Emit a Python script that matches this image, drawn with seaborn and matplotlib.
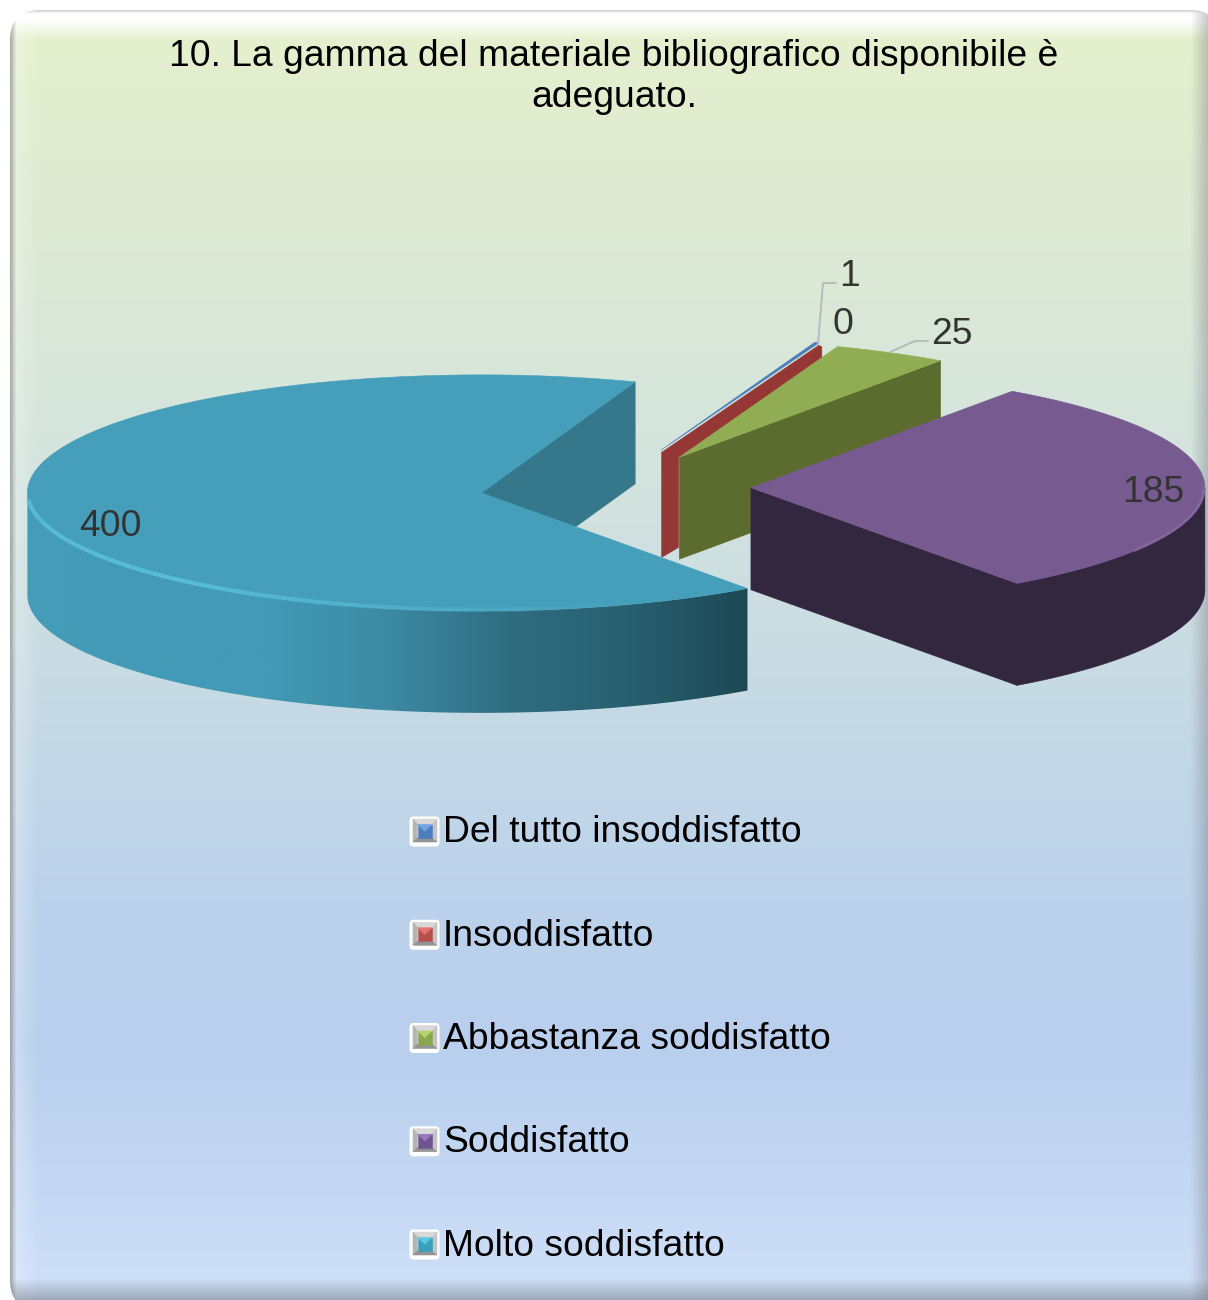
import numpy as np
import matplotlib
matplotlib.use('Agg')
import matplotlib.pyplot as plt
from matplotlib.colors import to_rgb
from matplotlib.patches import FancyBboxPatch, Polygon
import seaborn as sns

# --- Data ---
CATEGORIES = ['Del tutto insoddisfatto', 'Insoddisfatto', 'Abbastanza soddisfatto',
              'Soddisfatto', 'Molto soddisfatto']
VALUES = [1, 0, 25, 185, 400]
TITLE = '10. La gamma del materiale bibliografico disponibile è\nadeguato.'

# --- Colours ---
TOP_COLORS = ['#4a7ebb', '#953735', '#91ad53', '#775a90', '#459fba']
SIDE_COLORS = ['#35598a', '#953735', '#5c6c2e', '#33263f', '#35788c']
BIG_WALL = ['#459dba', '#439ab6', '#429ab6', '#3c8aa3', '#2f6d81', '#286071', '#1d4854']
LEGEND_LIGHT = ['#6fa3e0', '#e87470', '#b5d36b', '#9a78ba', '#5cc6de']
LEGEND_DARK = ['#4a7ebb', '#b5504d', '#8aa64f', '#6f5590', '#38a0ba']
BG_Y = [0, 200, 400, 700, 900, 1050, 1300]
BG_RGB = [(231, 241, 205), (222, 234, 210), (215, 230, 220), (198, 218, 228),
          (188, 210, 235), (185, 207, 238), (207, 224, 248)]

# --- Layout (pixels) ---
W, H = 1208, 1300
CX, CY = 617, 488
RX, RY = 454, 118
DEPTH = 102
EXPLODE = 0.295
START = 70.2
BIG_SHIFT = -3
FONT = 26.8

sns.set_theme(style='white')
plt.rcParams['font.family'] = ['Liberation Sans', 'DejaVu Sans']


def rim(center, t):
    t = np.radians(t)
    return center[0] + RX * np.cos(t), center[1] - RY * np.sin(t)


def poly(ax, xs, ys, color, z):
    ax.add_patch(Polygon(np.column_stack([xs, ys]), closed=True, facecolor=color,
                         edgecolor=color, lw=0.4, zorder=z))


fig = plt.figure(figsize=(W / 100, H / 100), dpi=100, facecolor='white')
ax = fig.add_axes([0, 0, 1, 1])
ax.set_xlim(0, W)
ax.set_ylim(H, 0)
ax.axis('off')

# --- Background panel ---
yy, xx = np.mgrid[0:H, 0:W]
img = np.stack([np.interp(yy, BG_Y, [c[i] for c in BG_RGB]) for i in range(3)], axis=-1) / 255.0


def blend(img, alpha, rgb):
    alpha = np.clip(alpha, 0, 1)[..., None]
    return img * (1 - alpha) + np.array(rgb) * alpha


img = blend(img, 0.28 * (1 - (xx - 14) / 24), (1, 1, 1))
img = blend(img, 0.95 * (1 - (yy - 20) / 20), (1, 1, 1))
img = blend(img, 0.55 * (1 - (xx - 10) / 6), (0.45, 0.45, 0.45))
img = blend(img, 0.40 * (xx - 1190) / 18, (0.45, 0.47, 0.50))
img = blend(img, 0.50 * (yy - 1278) / 22, (0.42, 0.44, 0.48))
img = blend(img, 0.6 * (1 - (yy - 10) / 3), (0.72, 0.72, 0.72))

panel = FancyBboxPatch((10, 10), 1210, 1300, boxstyle='round,pad=0,rounding_size=30',
                       facecolor='none', edgecolor='none', zorder=0)
ax.add_patch(panel)
bg = ax.imshow(img, extent=(0, W, H, 0), aspect='auto', zorder=0, interpolation='bilinear')
bg.set_clip_path(panel)

# --- Exploded pie, slices worked out from the values ---
total = sum(VALUES)
sweeps = [v / total * 360 for v in VALUES]
ends = START - np.cumsum(sweeps)
starts = ends + np.array(sweeps)
mids = (starts + ends) / 2
centers = [(CX + EXPLODE * RX * np.cos(np.radians(m)),
            CY - EXPLODE * RY * np.sin(np.radians(m))) for m in mids]
centers[4] = (centers[4][0] + BIG_SHIFT, centers[4][1])

# blue and red are only slivers
c = centers[1]
ex, ey = rim(c, ends[1])
rx, ry = rim(centers[0], np.linspace(starts[0], ends[0], 5))
poly(ax, np.r_[c[0] - 3, rx - 2], np.r_[c[1] - 5, ry - 2], TOP_COLORS[0], 2)
# zero value: Excel still draws the cut face as a slab
poly(ax, [c[0] - 2, ex - 3, ex, ex, c[0] + 17], [c[1] - 3, ey + 0.5, ey + 2, ey + 14, c[1] + 2],
     TOP_COLORS[1], 3)
poly(ax, [c[0] - 2, c[0] + 15, c[0] + 15, c[0] - 2],
     [c[1] - 3, c[1], c[1] + DEPTH - 10, c[1] + DEPTH], SIDE_COLORS[1], 3)

# green
c = centers[2]
ex, ey = rim(c, ends[2])
poly(ax, [c[0], ex, ex, c[0]], [c[1], ey, ey + DEPTH, c[1] + DEPTH], SIDE_COLORS[2], 4)
rx, ry = rim(c, np.linspace(starts[2], ends[2], 20))
poly(ax, np.r_[c[0], rx], np.r_[c[1], ry], TOP_COLORS[2], 5)

# purple
c = centers[3]
ex, ey = rim(c, ends[3])
poly(ax, [c[0], ex, ex, c[0]], [c[1], ey, ey + DEPTH, c[1] + DEPTH], SIDE_COLORS[3], 6)
wall_t = np.linspace(ends[3], 0, 40)
rx, ry = rim(c, wall_t)
poly(ax, np.r_[rx, rx[::-1]], np.r_[ry, ry[::-1] + DEPTH], SIDE_COLORS[3], 6)
rx, ry = rim(c, np.linspace(starts[3], ends[3], 120))
poly(ax, np.r_[c[0], rx], np.r_[c[1], ry], TOP_COLORS[3], 7)
rx, ry = rim(c, np.linspace(-32, 0, 30))
ax.plot(rx - 1, ry, color='#8d70a8', lw=2, alpha=0.6, zorder=8)

# big slice: cut face at the back, shaded wall at the front, then the top
c = centers[4]
sx, sy = rim(c, ends[4])
poly(ax, [c[0], sx, sx, c[0]], [c[1], sy, sy + DEPTH, c[1] + DEPTH], SIDE_COLORS[4], 8)
wall_t = np.linspace(-180, starts[4], 140)
rx, ry = rim(c, wall_t)
wall = Polygon(np.column_stack([np.r_[rx, rx[::-1]], np.r_[ry, ry[::-1] + DEPTH]]),
               closed=True, facecolor='none', edgecolor='none', zorder=9)
ax.add_patch(wall)
shades = np.array([to_rgb(s) for s in sns.blend_palette(BIG_WALL, n_colors=256)])[None, :, :]
wall_img = ax.imshow(shades, extent=(rx.min(), rx.max(), H, 0), aspect='auto', zorder=9,
                     interpolation='bilinear')
wall_img.set_clip_path(wall)
ax.set_xlim(0, W)
ax.set_ylim(H, 0)
rx, ry = rim(c, np.linspace(starts[4], ends[4], 240))
poly(ax, np.r_[c[0], rx], np.r_[c[1], ry], TOP_COLORS[4], 10)

# soft highlight along the front rim of the big slice
hl = np.linspace(-176, -70, 90)
for t0, t1 in zip(hl[:-1], hl[1:]):
    x, y = rim(c, np.array([t0, t1]))
    fade = min(1.0, (-70 - t0) / 60)
    ax.plot(x, y - 1, color='#58c0dc', lw=3, alpha=0.9 * fade, solid_capstyle='butt', zorder=11)

# --- Value labels and leader lines ---
LEADER = '#b4b8b8'
ax.plot([818, 823, 836], [344, 283, 283], color=LEADER, lw=1.3, zorder=12)
ax.plot([890, 915, 928], [352, 341, 341], color=LEADER, lw=1.3, zorder=12)
label_xy = [(849, 276), (843, 325), (952, 335), (1153, 492), (110, 527)]
for v, (lx, ly) in zip(VALUES, label_xy):
    ax.text(lx, ly, str(v), ha='center', va='center', fontsize=FONT, color='#333333', zorder=13)

# --- Title ---
ax.text(614, 77, TITLE, ha='center', va='center', fontsize=FONT, color='black',
        linespacing=1.2, zorder=13)

# --- Legend ---
for i, name in enumerate(CATEGORIES):
    ly = 831 + 103.25 * i
    ax.add_patch(FancyBboxPatch((411, ly - 13), 27, 27, boxstyle='round,pad=1.5,rounding_size=4',
                                facecolor='white', edgecolor='none', zorder=12))
    x0, x1, y0, y1 = 413, 437, ly - 12, ly + 11
    a0, a1, b0, b1 = 417.5, 432, ly - 6.5, ly + 7
    poly(ax, [x0, x1, a1, a0], [y0, y0, b0, b0], '#d8d8d8', 13)
    poly(ax, [x0, a0, a0, x0], [y0, b0, b1, y1], '#b4b4b4', 13)
    poly(ax, [x1, a1, a1, x1], [y0, b0, b1, y1], '#c4c4c4', 13)
    poly(ax, [x0, x1, a1, a0], [y1, y1, b1, b1], '#949494', 13)
    mx, my = (a0 + a1) / 2, (b0 + b1) / 2
    poly(ax, [a0, a1, a1, a0], [b0, b0, b1, b1], LEGEND_DARK[i], 14)
    poly(ax, [a0, a1, mx], [b0, b0, my], LEGEND_LIGHT[i], 15)
    ax.text(443, ly + 2, name, ha='left', va='center', fontsize=FONT, color='black', zorder=13)

plt.savefig('out.png', dpi=100, facecolor='white')
plt.close()
